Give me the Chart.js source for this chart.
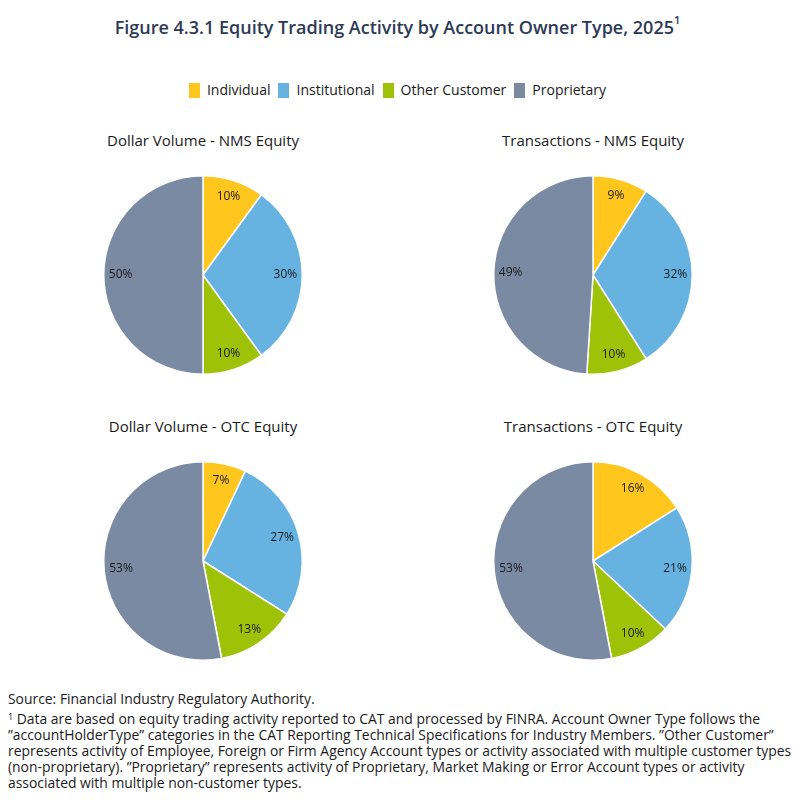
<!DOCTYPE html>
<html>
<head>
<meta charset="utf-8">
<script src="https://cdn.jsdelivr.net/npm/chart.js@4"></script>
<style>
  html, body { margin:0; padding:0; background:#fff; }
  body { width:795px; height:811px; position:relative; font-family:"Open Sans", sans-serif; color:#1a1a1a; overflow:hidden; }
  #title { position:absolute; left:0; width:795px; top:15px; text-align:center; font-size:18px; font-weight:600; color:#2c3a56; white-space:nowrap; }
  #title sup { font-size:11px; vertical-align:top; position:relative; top:-3px; }
  #legend { position:absolute; top:80px; left:0; width:795px; text-align:center; font-size:14px; white-space:nowrap; }
  .li { display:inline-block; margin:0 4px; }
  .sw { display:inline-block; width:11px; height:15px; vertical-align:-3px; margin-right:7px; }
  .sub { position:absolute; width:300px; text-align:center; font-size:15px; color:#1a1a1a; }
  .pie { position:absolute; width:206px; height:206px; }
  #foot { position:absolute; left:8px; top:691px; width:787px; font-size:13.9px; line-height:16px; color:#1a1a1a; white-space:nowrap; }
  #foot p { margin:0; }
  #foot sup { font-size:9px; vertical-align:top; position:relative; top:-2px; }
</style>
</head>
<body>
<div id="title">Figure 4.3.1 Equity Trading Activity by Account Owner Type, 2025<sup>1</sup></div>
<div id="legend"></div>

<div class="sub" style="left:53px; top:130px;">Dollar Volume - NMS Equity</div>
<div class="sub" style="left:443px; top:130px;">Transactions - NMS Equity</div>
<div class="sub" style="left:53px; top:416px;">Dollar Volume - OTC Equity</div>
<div class="sub" style="left:443px; top:416px;">Transactions - OTC Equity</div>

<div class="pie" style="left:100px; top:172px;"><canvas id="c1" width="206" height="206"></canvas></div>
<div class="pie" style="left:490px; top:172px;"><canvas id="c2" width="206" height="206"></canvas></div>
<div class="pie" style="left:100px; top:458px;"><canvas id="c3" width="206" height="206"></canvas></div>
<div class="pie" style="left:490px; top:458px;"><canvas id="c4" width="206" height="206"></canvas></div>

<div id="foot">
<p style="margin-bottom:4px;">Source: Financial Industry Regulatory Authority.</p>
<p><sup>1</sup> Data are based on equity trading activity reported to CAT and processed by FINRA. Account Owner Type follows the<br>”accountHolderType” categories in the CAT Reporting Technical Specifications for Industry Members. ”Other Customer”<br>represents activity of Employee, Foreign or Firm Agency Account types or activity associated with multiple customer types<br>(non-proprietary). ”Proprietary” represents activity of Proprietary, Market Making or Error Account types or activity<br>associated with multiple non-customer types.</p>
</div>

<script>
const categories = ["Individual", "Institutional", "Other Customer", "Proprietary"];
const colors = ["#ffc61e", "#66b3e2", "#9dc208", "#7a8aa3"];
const dollarNMS = [10, 30, 10, 50];
const transNMS = [9, 32, 10, 49];
const dollarOTC = [7, 27, 13, 53];
const transOTC = [16, 21, 10, 53];

// HTML legend
const lg = document.getElementById('legend');
categories.forEach((c, i) => {
  const s = document.createElement('span');
  s.className = 'li';
  s.innerHTML = '<span class="sw" style="background:' + colors[i] + '"></span>' + c;
  lg.appendChild(s);
});

const labelPlugin = {
  id: 'pctLabels',
  afterDatasetsDraw(chart) {
    const ctx = chart.ctx;
    const meta = chart.getDatasetMeta(0);
    const data = chart.data.datasets[0].data;
    ctx.save();
    ctx.font = '12px "Open Sans", sans-serif';
    ctx.fillStyle = '#1a1a1a';
    ctx.textAlign = 'center';
    ctx.textBaseline = 'middle';
    meta.data.forEach((arc, i) => {
      const p = arc.getProps(['x', 'y', 'startAngle', 'endAngle', 'outerRadius'], true);
      const mid = (p.startAngle + p.endAngle) / 2;
      const r = p.outerRadius * 0.83;
      ctx.fillText(data[i] + '%', p.x + Math.cos(mid) * r, p.y + Math.sin(mid) * r);
    });
    ctx.restore();
  }
};

function makePie(id, values) {
  new Chart(document.getElementById(id), {
    type: 'pie',
    data: {
      labels: categories,
      datasets: [{ data: values, backgroundColor: colors, borderColor: '#ffffff', borderWidth: 1.5 }]
    },
    options: {
      responsive: false,
      animation: false,
      layout: { padding: 3 },
      plugins: { legend: { display: false }, tooltip: { enabled: false }, title: { display: false } }
    },
    plugins: [labelPlugin]
  });
}
makePie('c1', dollarNMS);
makePie('c2', transNMS);
makePie('c3', dollarOTC);
makePie('c4', transOTC);
</script>
</body>
</html>
